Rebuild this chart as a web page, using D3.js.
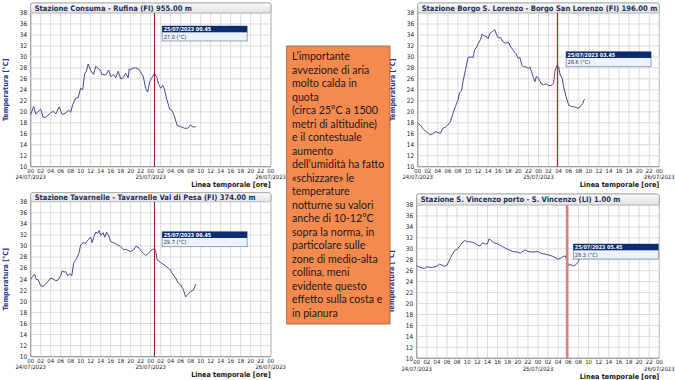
<!DOCTYPE html>
<html><head><meta charset="utf-8">
<script src="https://cdn.jsdelivr.net/npm/d3@7"></script>
<style>body{margin:0;background:#fff;} svg{display:block;}</style>
</head><body><svg id="c" width="675" height="380"></svg>
<script>
// ---------- DATA ----------
const stationTitles = [
  "Stazione Consuma - Rufina (FI) 955.00 m",
  "Stazione Tavarnelle - Tavarnelle Val di Pesa (FI) 374.00 m",
  "Stazione Borgo S. Lorenzo - Borgo San Lorenzo (FI) 196.00 m",
  "Stazione S. Vincenzo porto - S. Vincenzo (LI) 1.00 m"
];
const cursorHours = [24.75, 24.75, 27.75, 29.75];
const cursorLabels = ["25/07/2023 00.45", "25/07/2023 00.45", "25/07/2023 03.45", "25/07/2023 05.45"];
const cursorValues = ["27.0 (°C)", "29.7 (°C)", "28.6 (°C)", "28.3 (°C)"];

const hoursConsuma = [0,0.6,1,2,2.5,3,4,4.5,5,5.7,6.3,7,7.6,8,8.4,9,9.5,10,10.4,10.8,11.1,11.5,12,12.6,13,13.5,14,14.2,15,15.6,16,16.6,17,17.5,18,18.5,19,19.5,19.7,20,20.5,21,21.6,22,22.5,23,23.4,23.8,24.3,24.75,25.2,25.6,26,26.4,26.7,27.2,27.8,28.3,28.7,29.3,30,30.8,31.4,32,32.5,33];
const tempConsuma  = [19.5,21,19.6,20.5,19,19,19.8,20.1,19.6,20.9,19.5,19.8,20.3,19.9,21.3,22.5,22.6,24.3,24,27,27.3,28.7,27.5,26.8,28.3,27.9,27.5,26.8,26.7,27.6,26.4,26.8,26.2,27.4,26,26.2,27,26.2,27.8,27.7,28,28,27.8,27.2,26.5,24.2,23.6,25.5,26.3,27,26.3,25,24.3,24.8,24.3,22.3,20.5,20.2,19.3,17.5,17.3,17,17,17.6,17.2,17.3];

const hoursTavarnelle = [0,0.4,0.8,1.1,1.5,2,2.5,3,4,4.5,5,5.5,6,6.3,6.7,7,7.4,7.8,8.2,8.6,9.2,9.6,10,10.5,11,11.5,12,12.3,12.7,13,13.4,13.7,14,14.5,14.8,15.2,15.6,16,17,18,18.6,19,19.5,20,20.6,21,21.5,22,22.5,23,23.5,24,24.5,24.75,25,25.3,26,27,27.8,28.5,29,29.5,30,30.5,31,31.5,32,32.5,32.8,33];
const tempTavarnelle  = [24,24.5,24.9,24,23.9,22.8,22.7,23.1,24.2,24,23.7,23.9,24.6,25.5,25.3,25.4,24.6,25,24.6,26.9,27.8,28.6,30.2,30.6,30.5,31.1,31.6,30.6,31.8,32.5,32.3,32.8,31.9,32.4,31.6,32.5,31.8,30.8,30.4,29.9,29.3,29.4,29.2,29,29.3,29.9,29.8,29.2,28.7,28.3,28.6,29.2,29.4,29.6,29,27.5,27,26.4,25.8,24.8,24.2,23.3,23,22.2,20.8,21.3,21.8,22,22.6,23.1];

const hoursBorgo = [0,0.5,1,1.5,2,2.5,3,3.5,4,4.5,5,5.5,6,6.5,7,7.5,8,8.3,8.7,9,9.5,10,10.5,11,11.3,11.7,12,12.5,12.8,13.2,13.6,14,14.3,14.7,15,15.3,15.6,16,16.5,17,17.5,18,18.5,19,19.5,20,20.3,20.7,21,21.5,22,22.3,22.6,23,23.3,23.6,24,24.5,25,25.5,26,26.5,27,27.3,27.7,28,28.3,28.7,29,29.5,30,30.5,31,31.5,32,32.3,32.8,33,33.2];
const tempBorgo  = [17.9,17.6,17,16.5,16.2,15.8,16,16.4,16.2,16.1,17,17.2,17.6,18.2,19.7,21,22.1,23.5,23.8,25.5,27.7,29.9,30,29.9,31.3,31.8,32.4,33.2,34.2,33.8,33.8,33.3,34.2,34.5,34.7,35,34.2,33.5,33.5,32.7,32.5,32.7,31.8,31.2,30.6,29.7,29.9,28.5,28.2,28.2,27.9,28.2,27.3,26.2,25.5,26.5,26.1,25.2,24.9,25.1,24.8,24.8,25.2,27.6,28.5,28.2,26.7,26.1,24.5,22.7,21.2,21,20.9,20.8,20.6,21,21.5,22.1,22.3];

const hoursVincenzo = [0,0.5,1,1.5,2,3,4,4.5,5,5.5,6,6.5,7,7.5,8,8.5,9,9.5,10,10.5,11,11.5,12,12.5,13,13.5,14,14.3,14.8,15.2,16,17,18,19,20,20.5,21,21.5,22,23,24,24.5,25,26,27,28,28.5,29,29.4,29.7,30,30.5,31,31.5,32,32.3,32.8];
const tempVincenzo  = [26.9,26.7,26.5,26.4,26.7,26.6,26.8,27.2,27,26.8,27,28,28.9,29.7,29.9,30.5,31.1,31.5,31.3,31.3,31.2,31,30.7,30.5,31.1,30.9,30.9,31.8,31.5,31.1,30.9,30.4,29.9,29.5,29.4,29.2,29.5,29.8,29.5,29.4,29.5,29.2,29.1,28.9,28.6,28.1,28.3,28.6,28.7,28,27,27.1,26.9,27.1,27.7,28.6,29.2];

const yTickValues = [10,12,14,16,18,20,22,24,26,28,30,32,34,36,38];
const xTickHours = [0,2,4,6,8,10,12,14,16,18,20,22,24,26,28,30,32,34,36,38,40,42,44,46,48];
const xTickLabels = ["00","02","04","06","08","10","12","14","16","18","20","22","00","02","04","06","08","10","12","14","16","18","20","22","00"];
const dateHours = [0,24,48];
const dateLabels = ["24/07/2023","25/07/2023","26/07/2023"];

const noteLines = [
  "L’importante","avvezione di aria","molto calda in","quota","(circa 25°C a 1500",
  "metri di altitudine)","e il contestuale","aumento","dell’umidità ha fatto",
  "«schizzare» le","temperature","notturne su valori","anche di 10-12°C",
  "sopra la norma, in","particolare sulle","zone di medio-alta","collina, meni",
  "evidente questo","effetto sulla costa e","in pianura"
];

const series = [
  [hoursConsuma, tempConsuma],
  [hoursTavarnelle, tempTavarnelle],
  [hoursBorgo, tempBorgo],
  [hoursVincenzo, tempVincenzo]
];

// ---------- LAYOUT ----------
const panels = [
  {x0:30.7, x1:270.7, frameR:271, top:3, yTop:13, yBot:166.7, tipDx:7.7, tipY:26, cursorColor:"#8b1414", cursorW:1},
  {x0:30.7, x1:270.7, frameR:271, top:192.7, yTop:201.7, yBot:356.7, tipDx:7.7, tipY:231.7, cursorColor:"#8b1414", cursorW:1},
  {x0:417.7, x1:659.3, frameR:659.3, top:3, yTop:13, yBot:166.7, tipDx:8.7, tipY:51.7, cursorColor:"#8b1414", cursorW:1},
  {x0:416.7, x1:659.3, frameR:659.3, top:194, yTop:205, yBot:358.3, tipDx:6.3, tipY:244, cursorColor:"#e27c7c", cursorW:2.5}
];

const svg = d3.select("#c");
const defs = svg.append("defs");
const grad = defs.append("linearGradient").attr("id","tb").attr("x1",0).attr("x2",0).attr("y1",0).attr("y2",1);
grad.append("stop").attr("offset","0%").attr("stop-color","#fafafa");
grad.append("stop").attr("offset","100%").attr("stop-color","#e2e2e2");

const F = "'DejaVu Sans', Verdana, sans-serif";
const FC = "'DejaVu Sans Condensed', 'Liberation Sans Narrow', 'DejaVu Sans', sans-serif";

panels.forEach((p, i) => {
  const g = svg.append("g");
  const x = d3.scaleLinear().domain([0,48]).range([p.x0, p.x1]);
  const y = d3.scaleLinear().domain([10,38]).range([p.yBot, p.yTop]);

  // frame + title bar
  g.append("rect").attr("x", p.x0).attr("y", p.top).attr("width", p.frameR - p.x0).attr("height", p.yBot - p.top)
    .attr("fill", "#fff").attr("stroke", "#a0a0a0").attr("stroke-width", 0.8).attr("rx", 2);
  g.append("rect").attr("x", p.x0).attr("y", p.top).attr("width", p.frameR - p.x0).attr("height", p.yTop - p.top)
    .attr("fill", "url(#tb)").attr("stroke", "#a0a0a0").attr("stroke-width", 0.8).attr("rx", 2);
  g.append("text").attr("x", p.x0 + 4).attr("y", (p.top + p.yTop)/2 + 2.7)
    .attr("font-family", FC).attr("font-size", 7.6).attr("font-weight", "bold").attr("fill", "#26305a")
    .text(stationTitles[i]);

  // grid
  g.append("g").selectAll("line").data(xTickHours).join("line")
    .attr("x1", d => x(d)).attr("x2", d => x(d)).attr("y1", p.yTop).attr("y2", p.yBot)
    .attr("stroke", "#d2d2d2").attr("stroke-width", 0.8);
  g.append("g").selectAll("line").data(yTickValues).join("line")
    .attr("x1", p.x0).attr("x2", p.x1).attr("y1", d => y(d)).attr("y2", d => y(d))
    .attr("stroke", "#d2d2d2").attr("stroke-width", 0.8);
  g.append("line").attr("x1", p.x0).attr("x2", p.x0).attr("y1", p.yTop).attr("y2", p.yBot).attr("stroke", "#8a8a8a").attr("stroke-width", 0.8);
  g.append("line").attr("x1", p.x0).attr("x2", p.frameR).attr("y1", p.yBot).attr("y2", p.yBot).attr("stroke", "#8a8a8a").attr("stroke-width", 0.8);

  // y ticks labels
  g.append("g").selectAll("text").data(yTickValues).join("text")
    .attr("x", p.x0 - 3.5).attr("y", d => y(d) + 2.3).attr("text-anchor", "end")
    .attr("font-family", FC).attr("font-size", 6.4).attr("fill", "#222").text(d => d);
  // x tick labels
  g.append("g").selectAll("text").data(xTickHours).join("text")
    .attr("x", d => x(d)).attr("y", p.yBot + 6).attr("text-anchor", "middle")
    .attr("font-family", FC).attr("font-size", 5.9).attr("fill", "#222").text((d, k) => xTickLabels[k]);
  g.append("g").selectAll("text").data(dateHours).join("text")
    .attr("x", d => x(d)).attr("y", p.yBot + 12.4).attr("text-anchor", "middle")
    .attr("font-family", FC).attr("font-size", 5.9).attr("fill", "#222").text((d, k) => dateLabels[k]);
  g.append("text").attr("x", p.x1).attr("y", p.yBot + 20.2).attr("text-anchor", "end")
    .attr("font-family", FC).attr("font-size", 7.2).attr("font-weight", "bold").attr("fill", "#222")
    .text("Linea temporale [ore]");
  g.append("text").attr("transform", `translate(${p.x0 - 22.5},${(p.yTop + p.yBot)/2}) rotate(-90)`)
    .attr("text-anchor", "middle").attr("font-family", FC).attr("font-size", 7.2).attr("font-weight", "bold")
    .attr("fill", "#34348c").text("Temperatura [°C]");

  // data line
  const [hs, ts] = series[i];
  const pts = hs.map((h, k) => [h, ts[k]]);
  g.append("path").datum(pts)
    .attr("d", d3.line().x(d => x(d[0])).y(d => y(d[1])))
    .attr("fill", "none").attr("stroke", "#4a4a8c").attr("stroke-width", 1);

  // cursor
  const cx = x(cursorHours[i]);
  g.append("line").attr("x1", cx).attr("x2", cx).attr("y1", p.yTop).attr("y2", p.yBot)
    .attr("stroke", p.cursorColor).attr("stroke-width", p.cursorW);

  // tooltip
  const tx = cx + p.tipDx, tw = 85, ty = p.tipY;
  g.append("rect").attr("x", tx).attr("y", ty).attr("width", tw).attr("height", 15)
    .attr("fill", "#eef2fb").attr("stroke", "#7c8cb4").attr("stroke-width", 0.8);
  g.append("rect").attr("x", tx).attr("y", ty).attr("width", tw).attr("height", 6.3).attr("fill", "#0c2c6e");
  g.append("text").attr("x", tx + 1.5).attr("y", ty + 5).attr("font-family", FC).attr("font-size", 5.4)
    .attr("font-weight", "bold").attr("fill", "#fff").text(cursorLabels[i]);
  g.append("text").attr("x", tx + 1.5).attr("y", ty + 12.6).attr("font-family", FC).attr("font-size", 5.6)
    .attr("fill", "#333").text(cursorValues[i]);
});

// note box
const note = svg.append("g");
note.append("rect").attr("x", 286.7).attr("y", 46).attr("width", 103.3).attr("height", 278)
  .attr("fill", "#f58a4e").attr("stroke", "#9a5634").attr("stroke-width", 0.8);
note.append("g").selectAll("text").data(noteLines).join("text")
  .attr("x", 292).attr("y", (d, k) => 60 + k * 13.5)
  .attr("font-family", "Lato, 'Open Sans', sans-serif").attr("font-size", 10.6).attr("fill", "#1a1a1a")
  .text(d => d);
</script>
</body></html>
